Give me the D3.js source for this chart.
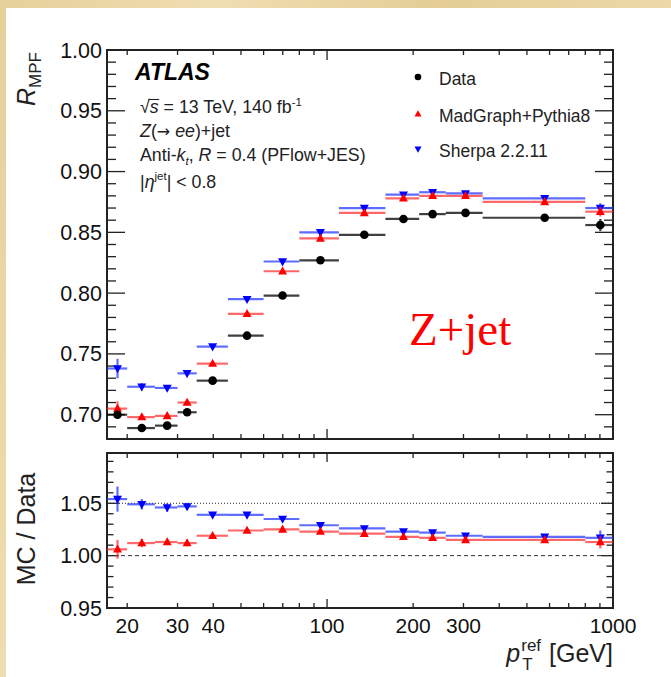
<!DOCTYPE html>
<html>
<head>
<meta charset="utf-8">
<script src="https://cdn.jsdelivr.net/npm/d3@7"></script>
<style>
  body { margin: 0; background: #fff; }
  svg { display: block; font-family: "Liberation Sans", Arial, sans-serif; }
</style>
</head>
<body>
<script>
// bins in pT^ref [GeV]
var binEdges = [17, 20, 25, 30, 35, 45, 60, 80, 110, 160, 210, 260, 350, 800, 1000];
var ptMean = [18.5, 22.5, 27.6, 32.4, 39.8, 52.5, 69.9, 94.8, 135, 185, 234, 305, 577, 903];

// R_MPF
var dataR = [0.700, 0.689, 0.691, 0.702, 0.728, 0.765, 0.798, 0.827, 0.848, 0.861, 0.865, 0.866, 0.862, 0.856];
var dataErr = [0.002, 0.001, 0.001, 0.001, 0.001, 0.001, 0.001, 0.001, 0.001, 0.001, 0.001, 0.001, 0.001, 0.005];
var mgR = [0.705, 0.698, 0.699, 0.710, 0.742, 0.783, 0.818, 0.845, 0.866, 0.878, 0.880, 0.880, 0.875, 0.867];
var mgErr = [0.006, 0.002, 0.002, 0.002, 0.001, 0.001, 0.001, 0.001, 0.001, 0.001, 0.001, 0.001, 0.001, 0.004];
var sherpaR = [0.738, 0.723, 0.722, 0.734, 0.756, 0.795, 0.826, 0.850, 0.870, 0.881, 0.883, 0.882, 0.878, 0.870];
var sherpaErr = [0.008, 0.003, 0.002, 0.002, 0.001, 0.001, 0.001, 0.001, 0.001, 0.001, 0.001, 0.001, 0.001, 0.004];

// MC / Data
var ratioMg = [1.006, 1.012, 1.013, 1.012, 1.019, 1.024, 1.025, 1.023, 1.021, 1.018, 1.017, 1.015, 1.015, 1.013];
var ratioMgErr = [0.009, 0.004, 0.003, 0.003, 0.002, 0.002, 0.002, 0.002, 0.002, 0.002, 0.002, 0.002, 0.002, 0.006];
var ratioSherpa = [1.054, 1.049, 1.046, 1.047, 1.039, 1.039, 1.035, 1.029, 1.026, 1.023, 1.022, 1.019, 1.018, 1.017];
var ratioSherpaErr = [0.012, 0.005, 0.004, 0.003, 0.002, 0.002, 0.002, 0.002, 0.002, 0.002, 0.002, 0.002, 0.002, 0.007];

var xTicks = [20, 30, 40, 50, 60, 70, 80, 90, 100, 200, 300, 400, 500, 600, 700, 800, 900, 1000];
var xMajor = [100, 1000];
var xLabels = [20, 30, 40, 100, 200, 300, 1000];
var yMainMajor = [0.70, 0.75, 0.80, 0.85, 0.90, 0.95, 1.00];
var yRatioMajor = [0.95, 1.00, 1.05];

var W = 671, H = 677;
var left = 107, right = 613;
var mainTop = 50, mainBottom = 439;
var ratTop = 453, ratBottom = 608;

var svg = d3.select("body").append("svg")
  .attr("width", W)
  .attr("height", H);

// parchment border
var defs = svg.append("defs");
var grad = defs.append("linearGradient").attr("id", "parch")
  .attr("x1", 0).attr("y1", 0).attr("x2", 1).attr("y2", 0.3);
[["0", "#e6d09a"], ["0.3", "#efdeb2"], ["0.6", "#e4cd96"], ["1", "#eedcae"]].forEach(function (s) {
  grad.append("stop").attr("offset", s[0]).attr("stop-color", s[1]);
});
svg.append("rect").attr("width", W).attr("height", H).attr("fill", "url(#parch)");
svg.append("rect").attr("x", 6).attr("y", 8).attr("width", W - 6).attr("height", H - 8).attr("fill", "#fff");

var x = d3.scaleLog().domain([17, 1000]).range([left, right]);
var yMain = d3.scaleLinear().domain([0.68, 1.00]).range([mainBottom, mainTop]);
var yRat = d3.scaleLinear().domain([0.95, 1.098]).range([ratBottom, ratTop]);

function minorRange(a, b) {
  var out = [];
  for (var i = Math.round(a * 100); i <= Math.round(b * 100); i++) out.push(i / 100);
  return out;
}

// ticks on all four sides, ROOT style (inside)
function frameTicks(y, yMaj, yMin, top, bottom, yMajLen, yMinLen, xMajLen, xMinLen) {
  var g = svg.append("g").attr("stroke", "#222").attr("stroke-width", 1.3);
  var xs = xTicks.map(function (v) { return { v: v, len: xMajor.indexOf(v) >= 0 ? xMajLen : xMinLen }; });
  g.selectAll(null).data(xs).enter().append("line")
    .attr("x1", function (d) { return x(d.v); }).attr("x2", function (d) { return x(d.v); })
    .attr("y1", bottom).attr("y2", function (d) { return bottom - d.len; });
  g.selectAll(null).data(xs).enter().append("line")
    .attr("x1", function (d) { return x(d.v); }).attr("x2", function (d) { return x(d.v); })
    .attr("y1", top).attr("y2", function (d) { return top + d.len; });
  var ys = yMin.map(function (v) {
    var isMaj = yMaj.some(function (m) { return Math.abs(m - v) < 1e-6; });
    return { v: v, len: isMaj ? yMajLen : yMinLen };
  });
  g.selectAll(null).data(ys).enter().append("line")
    .attr("x1", left).attr("x2", function (d) { return left + d.len; })
    .attr("y1", function (d) { return y(d.v); }).attr("y2", function (d) { return y(d.v); });
  g.selectAll(null).data(ys).enter().append("line")
    .attr("x1", right).attr("x2", function (d) { return right - d.len; })
    .attr("y1", function (d) { return y(d.v); }).attr("y2", function (d) { return y(d.v); });
  svg.append("rect").attr("x", left).attr("y", top)
    .attr("width", right - left).attr("height", bottom - top)
    .attr("fill", "none").attr("stroke", "#222").attr("stroke-width", 2);
  // y labels
  svg.append("g").selectAll(null).data(yMaj).enter().append("text")
    .attr("x", 102).attr("y", function (d) { return y(d) + 7.5; })
    .attr("text-anchor", "end").attr("font-size", 21.5).attr("fill", "#111")
    .text(function (d) { return d3.format(".2f")(d); });
}

frameTicks(yMain, yMainMajor, minorRange(0.68, 1.00), mainTop, mainBottom, 18, 9, 10, 5);
frameTicks(yRat, yRatioMajor, minorRange(0.95, 1.09), ratTop, ratBottom, 12, 6.5, 9, 5);

// x labels (lower panel only)
svg.append("g").selectAll(null).data(xLabels).enter().append("text")
  .attr("x", function (d) { return x(d); }).attr("y", 633)
  .attr("text-anchor", "middle").attr("font-size", 21).attr("fill", "#111")
  .text(function (d) { return d; });

// reference lines in ratio panel
svg.append("line").attr("x1", left).attr("x2", right)
  .attr("y1", yRat(1.05)).attr("y2", yRat(1.05))
  .attr("stroke", "#222").attr("stroke-width", 1).attr("stroke-dasharray", "1,2");
svg.append("line").attr("x1", left).attr("x2", right)
  .attr("y1", yRat(1.00)).attr("y2", yRat(1.00))
  .attr("stroke", "#333").attr("stroke-width", 1).attr("stroke-dasharray", "4,3");

function triPath(up, s) {
  var h = s * 0.9, w = s;
  return up ? "M0," + (-h * 0.6) + "L" + (w / 2) + "," + (h * 0.4) + "L" + (-w / 2) + "," + (h * 0.4) + "Z"
            : "M0," + (h * 0.6) + "L" + (w / 2) + "," + (-h * 0.4) + "L" + (-w / 2) + "," + (-h * 0.4) + "Z";
}

function drawSeries(y, vals, errs, color, barColor, marker) {
  var g = svg.append("g");
  g.selectAll(null).data(vals).enter().append("line")
    .attr("x1", function (d, i) { return x(binEdges[i]); })
    .attr("x2", function (d, i) { return x(binEdges[i + 1]); })
    .attr("y1", function (d) { return y(d); }).attr("y2", function (d) { return y(d); })
    .attr("stroke", barColor).attr("stroke-width", 2.2);
  g.selectAll(null).data(vals).enter().append("line")
    .attr("x1", function (d, i) { return x(ptMean[i]); })
    .attr("x2", function (d, i) { return x(ptMean[i]); })
    .attr("y1", function (d, i) { return y(d - errs[i]); })
    .attr("y2", function (d, i) { return y(d + errs[i]); })
    .attr("stroke", barColor).attr("stroke-width", 2.2);
  if (marker === "circle") {
    g.selectAll(null).data(vals).enter().append("circle")
      .attr("cx", function (d, i) { return x(ptMean[i]); })
      .attr("cy", function (d) { return y(d); })
      .attr("r", 4.3).attr("fill", color);
  } else {
    g.selectAll(null).data(vals).enter().append("path")
      .attr("transform", function (d, i) { return "translate(" + x(ptMean[i]) + "," + y(d) + ")"; })
      .attr("d", triPath(marker === "up", 9)).attr("fill", color);
  }
}

drawSeries(yMain, sherpaR, sherpaErr, "#0000ff", "rgba(40,60,255,0.75)", "down");
drawSeries(yMain, mgR, mgErr, "#ff0000", "rgba(255,40,40,0.7)", "up");
drawSeries(yMain, dataR, dataErr, "#000", "rgba(0,0,0,0.75)", "circle");
drawSeries(yRat, ratioSherpa, ratioSherpaErr, "#0000ff", "rgba(40,60,255,0.75)", "down");
drawSeries(yRat, ratioMg, ratioMgErr, "#ff0000", "rgba(255,40,40,0.7)", "up");

// legend
var legItems = [
  { label: "Data", color: "#000", marker: "circle", y: 78 },
  { label: "MadGraph+Pythia8", color: "#ff0000", marker: "up", y: 115 },
  { label: "Sherpa 2.2.11", color: "#0000ff", marker: "down", y: 150 }
];
var leg = svg.append("g");
legItems.forEach(function (d) {
  if (d.marker === "circle") {
    leg.append("circle").attr("cx", 418).attr("cy", d.y - 1).attr("r", 3.3).attr("fill", d.color);
  } else {
    leg.append("path").attr("transform", "translate(418," + (d.y - 1) + ")")
      .attr("d", triPath(d.marker === "up", 7)).attr("fill", d.color);
  }
  leg.append("text").attr("x", 439).attr("y", d.y + 6.5)
    .attr("font-size", 17.5).attr("fill", "#222").text(d.label);
});

// ATLAS label block
svg.append("text").attr("x", 135).attr("y", 80)
  .attr("font-size", 23).attr("font-weight", "bold").attr("font-style", "italic")
  .attr("fill", "#000").text("ATLAS");

var fs = 17.8;
var t1 = svg.append("text").attr("x", 140).attr("y", 113).attr("font-size", fs).attr("fill", "#222");
t1.append("tspan").text("\u221A");
t1.append("tspan").attr("font-style", "italic").text("s");
t1.append("tspan").text(" = 13 TeV, 140 fb");
t1.append("tspan").attr("dy", -7).attr("font-size", 11.5).text("-1");
// overline of the square root
var sBox = t1.node().getExtentOfChar(1);
var rootBox = t1.node().getExtentOfChar(0);
svg.append("line")
  .attr("x1", rootBox.x + rootBox.width - 1.5).attr("x2", sBox.x + sBox.width + 0.5)
  .attr("y1", 113 - 13.5).attr("y2", 113 - 13.5)
  .attr("stroke", "#222").attr("stroke-width", 1.1);

var t2 = svg.append("text").attr("x", 140).attr("y", 137).attr("font-size", fs).attr("fill", "#222");
t2.append("tspan").attr("font-style", "italic").text("Z");
t2.append("tspan").text("(");
t2.append("tspan").attr("font-family", "'DejaVu Sans', sans-serif").attr("font-size", 16).text("\u2192");
t2.append("tspan").text(" ");
t2.append("tspan").attr("font-style", "italic").text("ee");
t2.append("tspan").text(")+jet");

var t3 = svg.append("text").attr("x", 140).attr("y", 161).attr("font-size", fs).attr("fill", "#222");
t3.append("tspan").text("Anti-");
t3.append("tspan").attr("font-style", "italic").text("k");
t3.append("tspan").attr("font-style", "italic").attr("font-size", 11.5).attr("dy", 4).text("t");
t3.append("tspan").attr("dy", -4).text(", ");
t3.append("tspan").attr("font-style", "italic").text("R");
t3.append("tspan").text(" = 0.4 (PFlow+JES)");

var t4 = svg.append("text").attr("x", 140).attr("y", 188).attr("font-size", fs).attr("fill", "#222");
t4.append("tspan").text("|");
t4.append("tspan").attr("font-style", "italic").text("\u03B7");
t4.append("tspan").attr("font-size", 11.5).attr("dy", -8).text("jet");
t4.append("tspan").attr("dy", 8).text("| < 0.8");

// Z+jet annotation
svg.append("text").attr("x", 409).attr("y", 345)
  .attr("font-family", "'Liberation Serif', 'Times New Roman', serif")
  .attr("font-size", 47).attr("fill", "#ff0000").text("Z+jet");

// y titles
var yt = svg.append("text").attr("transform", "translate(35,52) rotate(-90)")
  .attr("text-anchor", "end").attr("font-size", 25).attr("fill", "#222");
yt.append("tspan").attr("font-style", "italic").text("R");
yt.append("tspan").attr("font-size", 17).attr("dy", 6).text("MPF");

svg.append("text").attr("transform", "translate(35,529) rotate(-90)")
  .attr("text-anchor", "middle").attr("font-size", 25).attr("fill", "#222")
  .text("MC / Data");

// x title: p_T^ref [GeV]
var gev = svg.append("text").attr("x", right).attr("y", 662)
  .attr("text-anchor", "end").attr("font-size", 25).attr("fill", "#222").text("[GeV]");
var gevW = gev.node().getComputedTextLength();
var refEnd = right - gevW - 8;
var ref = svg.append("text").attr("x", refEnd).attr("y", 651)
  .attr("text-anchor", "end").attr("font-size", 17).attr("fill", "#222").text("ref");
var refStart = refEnd - ref.node().getComputedTextLength();
svg.append("text").attr("x", refStart + 1).attr("y", 670)
  .attr("font-size", 17).attr("fill", "#222").text("T");
svg.append("text").attr("x", refStart - 1).attr("y", 662)
  .attr("text-anchor", "end").attr("font-size", 25).attr("font-style", "italic")
  .attr("fill", "#222").text("p");
</script>
</body>
</html>
